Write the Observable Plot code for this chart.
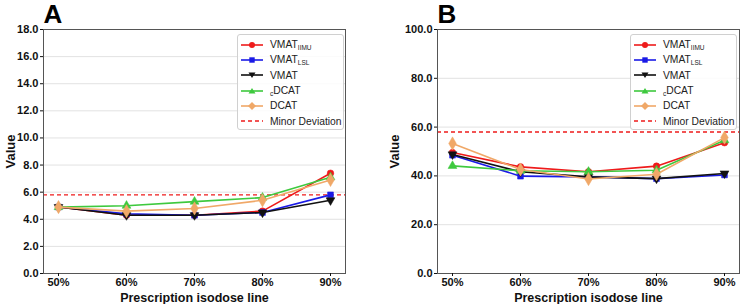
<!DOCTYPE html>
<html>
<head>
<meta charset="utf-8">
<script src="https://cdn.jsdelivr.net/npm/d3@7"></script>
<script src="https://cdn.jsdelivr.net/npm/@observablehq/plot@0.6"></script>
<style>
  html, body { margin: 0; padding: 0; background: #fff; }
  body { width: 741px; height: 304px; overflow: hidden; font-family: "Liberation Sans", Arial, sans-serif; }
  #wrap { position: relative; width: 741px; height: 304px; display: flex; }
  .panel { position: relative; }
  .legend { position: absolute; background: rgba(255,255,255,0.85); border: 1px solid #d0d0d0; border-radius: 3px; box-sizing: border-box; padding: 2px 4px 0 2px; font-size: 10.3px; color: #222; }
  .row { display: flex; align-items: center; height: 15.3px; white-space: nowrap; }
  .row svg { flex: none; margin-right: 6px; }
  sub { font-size: 6.5px; vertical-align: -2px; }
</style>
</head>
<body>
<div id="wrap"></div>
<script>
const categories = ["50%", "60%", "70%", "80%", "90%"];
const seriesNames = ["VMAT_IIMU", "VMAT_LSL", "VMAT", "cDCAT", "DCAT"];
const seriesLabels = ["VMAT<sub>IIMU</sub>", "VMAT<sub>LSL</sub>", "VMAT", "<sub>c</sub>DCAT", "DCAT"];
const seriesColors = ["#ee1b1b", "#1a1ae6", "#111111", "#3ec93e", "#f0a868"];
const seriesSymbols = ["circle", "square", "triangle", "triangle", "diamond"];
const seriesRotate = [0, 0, 180, 0, 0];

// Panel A
const aVmatIIMU = [4.9, 4.3, 4.3, 4.6, 7.4];
const aVmatLSL  = [4.9, 4.4, 4.3, 4.5, 5.8];
const aVmat     = [4.9, 4.3, 4.3, 4.5, 5.4];
const aCDCAT    = [4.9, 5.0, 5.3, 5.6, 7.1];
const aDCAT     = [4.9, 4.6, 4.8, 5.4, 6.9];
const aMinor = 5.8;
const aTicks = [0, 2, 4, 6, 8, 10, 12, 14, 16, 18];

// Panel B
const bVmatIIMU = [49.6, 43.7, 41.7, 44.0, 53.6];
const bVmatLSL  = [48.5, 39.9, 39.6, 38.9, 40.4];
const bVmat     = [48.8, 41.7, 39.6, 38.9, 41.0];
const bCDCAT    = [44.1, 42.1, 41.7, 42.3, 54.6];
const bDCAT     = [53.3, 42.6, 38.7, 40.7, 55.7];
const bMinor = 58;
const bTicks = [0, 20, 40, 60, 80, 100];

function toRows(arrays) {
  const rows = [];
  arrays.forEach((arr, si) => arr.forEach((v, ci) => rows.push({series: seriesNames[si], si, cat: categories[ci], value: v})));
  return rows;
}

function panel({letter, arrays, minor, ticks, ymax, width, marginLeft, marginRight, labelOffset, legendLeft}) {
  const rows = toRows(arrays);
  const marks = [
    Plot.gridY(ticks.slice(1, -1), {stroke: "#e2e2e2", strokeOpacity: 1}),
    Plot.ruleY([minor], {stroke: "#ee1b1b", strokeWidth: 1.3, strokeDasharray: "4,3"}),
  ];
  seriesNames.forEach((name, si) => {
    const d = rows.filter(r => r.si === si);
    marks.push(Plot.line(d, {x: "cat", y: "value", stroke: seriesColors[si], strokeWidth: 1.6}));
    marks.push(Plot.dot(d, {x: "cat", y: "value", fill: seriesColors[si], stroke: seriesColors[si], strokeWidth: 0.5,
      symbol: seriesSymbols[si], rotate: seriesRotate[si], r: si === 4 ? 4 : 3.3}));
  });
  marks.push(Plot.frame({stroke: "#555", strokeWidth: 1}));
  marks.push(Plot.axisY(ticks, {tickSize: 3, tickPadding: 2, tickFormat: d => d.toFixed(1), label: "Value", labelArrow: "none", labelAnchor: "center", labelOffset, fontSize: 11}));
  marks.push(Plot.axisX({tickSize: 3, tickPadding: 2, label: "Prescription isodose line", labelArrow: "none", labelAnchor: "center", labelOffset: 28, fontSize: 11}));
  marks.push(Plot.text([letter], {frameAnchor: "top-left", dy: -25, dx: 0, textAnchor: "start", lineAnchor: "top", fontSize: 26, fontWeight: "bold", fill: "#000"}));
  const chart = Plot.plot({
    width, height: 304,
    marginTop: 29, marginBottom: 31, marginLeft, marginRight,
    style: {fontFamily: "Liberation Sans, Arial, sans-serif", fontSize: "11px", fontWeight: "bold", color: "#111", overflow: "visible"},
    x: {type: "point", domain: categories, padding: 0.19, label: null},
    y: {domain: [0, ymax], label: null},
    marks
  });
  chart.querySelectorAll("[aria-label='y-axis label'] text").forEach(t => t.setAttribute("font-size", "13"));
  chart.querySelectorAll("[aria-label='x-axis label'] text").forEach(t => t.setAttribute("font-size", "12.5"));
  const div = document.createElement("div");
  div.className = "panel";
  div.style.width = width + "px";
  div.appendChild(chart);
  const leg = document.createElement("div");
  leg.className = "legend";
  leg.style.left = legendLeft + "px";
  leg.style.top = "34px";
  leg.style.width = "107px";
  leg.style.height = "96px";
  let html = "";
  seriesNames.forEach((name, si) => {
    const c = seriesColors[si];
    let m;
    if (si === 0) m = `<circle cx="12" cy="6" r="3" fill="${c}"/>`;
    else if (si === 1) m = `<rect x="9.3" y="3.3" width="5.4" height="5.4" fill="${c}"/>`;
    else if (si === 2) m = `<path d="M8.5,3.5 L15.5,3.5 L12,9 Z" fill="${c}"/>`;
    else if (si === 3) m = `<path d="M8.5,8.5 L15.5,8.5 L12,3 Z" fill="${c}"/>`;
    else m = `<path d="M12,2 L16,6 L12,10 L8,6 Z" fill="${c}"/>`;
    html += `<div class="row"><svg width="24" height="12"><line x1="1" x2="23" y1="6" y2="6" stroke="${c}" stroke-width="1.6"/>${m}</svg><span>${seriesLabels[si]}</span></div>`;
  });
  html += `<div class="row"><svg width="24" height="12"><line x1="1" x2="23" y1="6" y2="6" stroke="#ee1b1b" stroke-width="1.3" stroke-dasharray="4,3"/></svg><span>Minor Deviation</span></div>`;
  leg.innerHTML = html;
  div.appendChild(leg);
  return div;
}

const wrap = document.getElementById("wrap");
wrap.appendChild(panel({letter: "A", arrays: [aVmatIIMU, aVmatLSL, aVmat, aCDCAT, aDCAT], minor: aMinor, ticks: aTicks, ymax: 18,
  width: 370, marginLeft: 43, marginRight: 25, labelOffset: 38, legendLeft: 237}));
wrap.appendChild(panel({letter: "B", arrays: [bVmatIIMU, bVmatLSL, bVmat, bCDCAT, bDCAT], minor: bMinor, ticks: bTicks, ymax: 100,
  width: 371, marginLeft: 67, marginRight: 2, labelOffset: 48, legendLeft: 260}));
</script>
</body>
</html>
